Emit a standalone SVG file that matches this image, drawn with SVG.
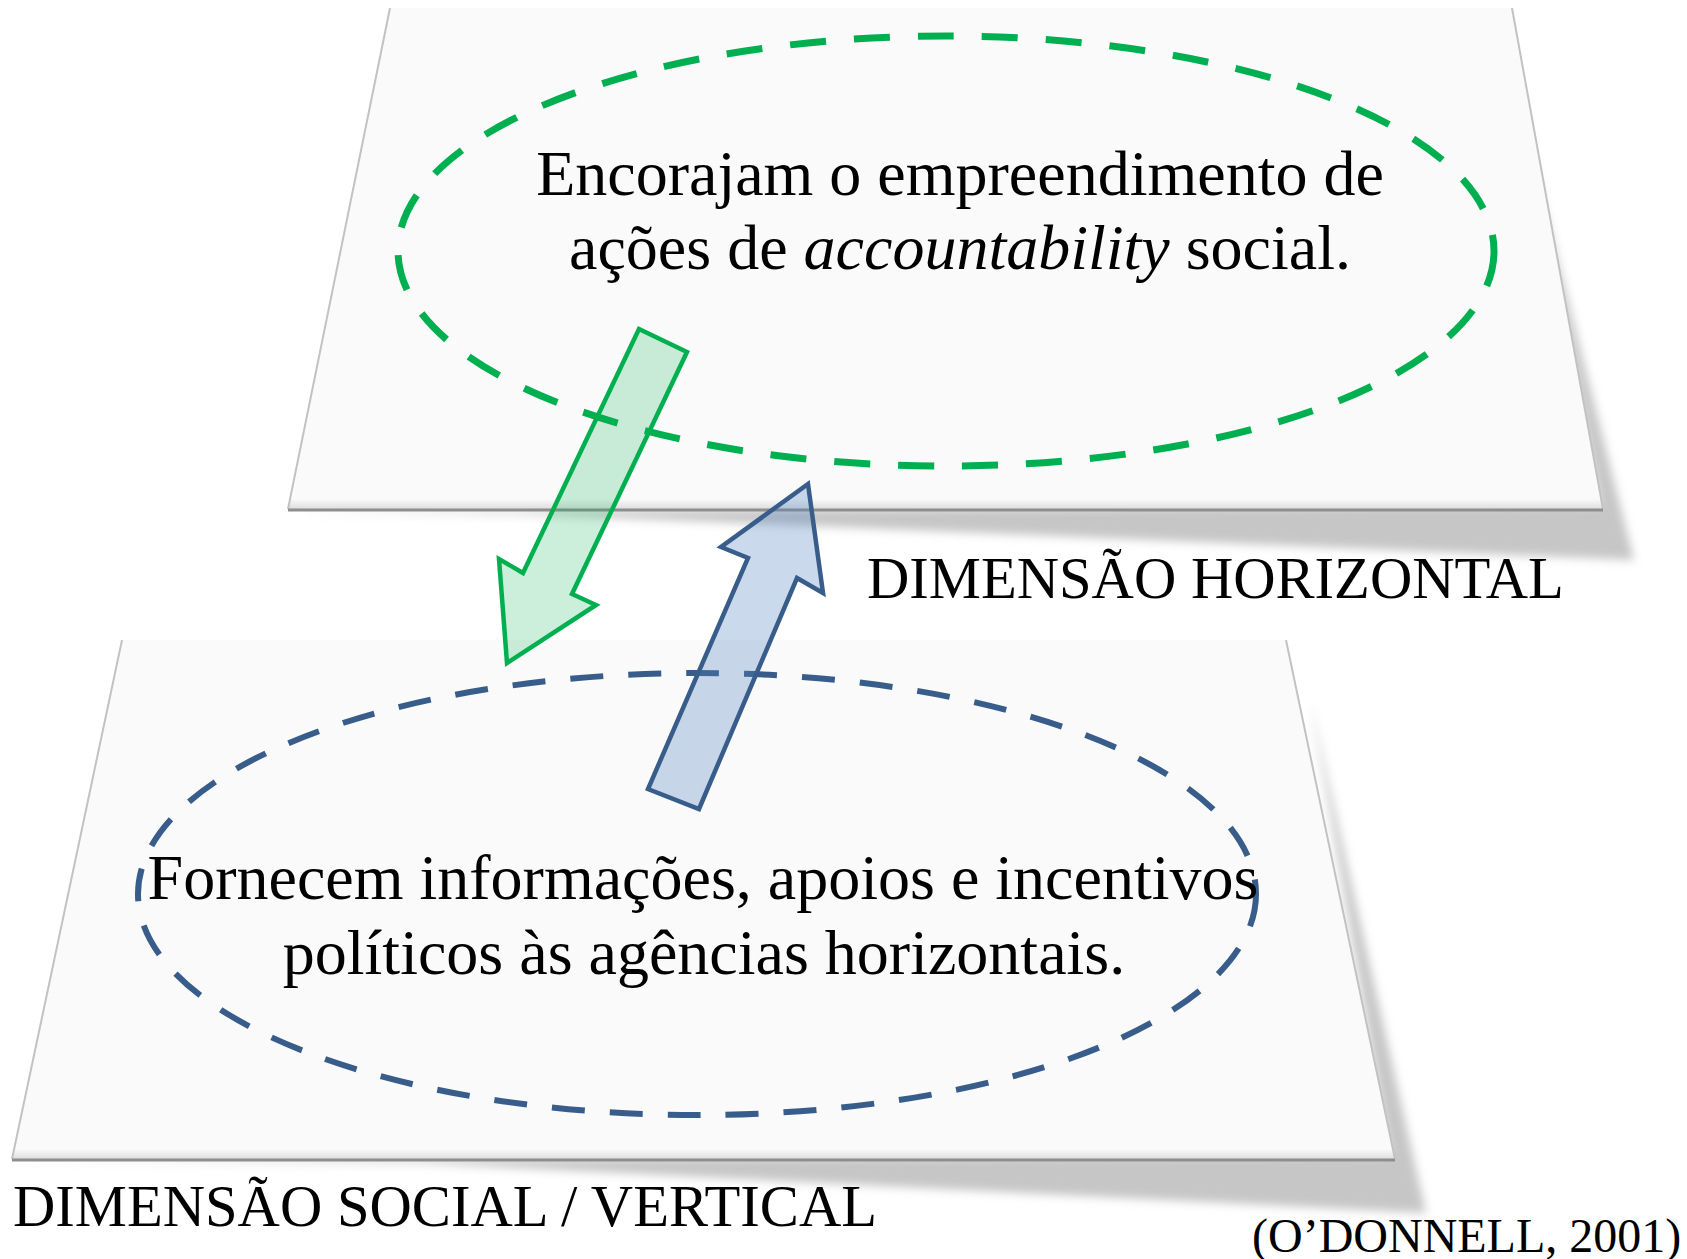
<svg xmlns="http://www.w3.org/2000/svg" width="1687" height="1259" viewBox="0 0 1687 1259">
  <style>
    .txt { font-family: "Liberation Serif", "Times New Roman", serif; fill: #000; }
    .main { font-size: 64px; text-anchor: middle; }
    .lbl { font-size: 58.6px; }
    .plane { fill: #fafafa; }
    .side { stroke: #c2c2c2; stroke-width: 2; fill: none; }
    .bottomline { stroke: #8e8e8e; stroke-width: 3; fill: none; }
    .shadow { fill: #c6c6c6; filter: url(#blur); }
    .ellG { fill: none; stroke: #00b050; stroke-width: 7; stroke-dasharray: 36 28; }
    .ellB { fill: none; stroke: #385d8a; stroke-width: 6; stroke-dasharray: 33 25; }
    .arrG { fill: #00b050; fill-opacity: 0.2; stroke: #00b050; stroke-width: 4.5; stroke-linejoin: miter; }
    .arrB { fill: #4f81bd; fill-opacity: 0.3; stroke: #385d8a; stroke-width: 4.5; stroke-linejoin: miter; }
  </style>
  <defs>
    <filter id="blur" x="-10%" y="-10%" width="120%" height="120%">
      <feGaussianBlur stdDeviation="5"/>
    </filter>
    <linearGradient id="bevel" x1="0" y1="0" x2="0" y2="1">
      <stop offset="0" stop-color="#fafafa"/>
      <stop offset="1" stop-color="#dedede"/>
    </linearGradient>
  </defs>
  <rect width="1687" height="1259" fill="#ffffff"/>

  <!-- shadows -->
  <polygon class="shadow" points="1530,150 1634,560 520,514 288,512 1600,505"/>
  <polygon class="shadow" points="1310,700 1426,1213 420,1163 14,1161 1390,1155"/>

  <g id="plane-horizontal">
    <polygon class="plane" points="390,8 1512,8 1603,509 288,509"/>
    <polygon points="290,499 1601,499 1603,509 288,509" fill="url(#bevel)"/>
    <line class="side" x1="390" y1="8" x2="288" y2="509"/>
    <line class="side" x1="1512" y1="8" x2="1603" y2="509"/>
    <line class="bottomline" x1="288" y1="510" x2="1603" y2="510"/>
  </g>

  <g id="plane-vertical">
    <polygon class="plane" points="122,640 1286,640 1395,1159 12,1159"/>
    <polygon points="14,1149 1393,1149 1395,1159 12,1159" fill="url(#bevel)"/>
    <line class="side" x1="122" y1="640" x2="12" y2="1159"/>
    <line class="side" x1="1286" y1="640" x2="1395" y2="1159"/>
    <line class="bottomline" x1="12" y1="1160" x2="1395" y2="1160"/>
  </g>

  <g id="node-encorajam">
    <ellipse class="ellG" cx="946" cy="251" rx="548" ry="215"/>
    <text class="txt main" x="960" y="195">Encorajam o empreendimento de</text>
    <text class="txt main" x="960" y="269">ações de <tspan font-style="italic">accountability</tspan> social.</text>
  </g>

  <g id="node-fornecem">
    <ellipse class="ellB" cx="697" cy="894" rx="559" ry="221"/>
    <text class="txt main" x="703" y="899">Fornecem informações, apoios e incentivos</text>
    <text class="txt main" x="704" y="974">políticos às agências horizontais.</text>
  </g>

  <g id="connectors">
    <polygon class="arrG" points="639,329 687,352 572,594 596,605 507,663 499,559 523,573"/>
    <polygon class="arrB" points="808,484 823,593 797,578 699,809 648,789 748,558 721,547"/>
  </g>

  <g id="labels">
    <text class="txt lbl" x="867" y="598">DIMENSÃO HORIZONTAL</text>
    <text class="txt lbl" x="13" y="1226">DIMENSÃO SOCIAL / VERTICAL</text>
    <text class="txt" x="1252" y="1252" font-size="48">(O’DONNELL, 2001)</text>
  </g>
</svg>
